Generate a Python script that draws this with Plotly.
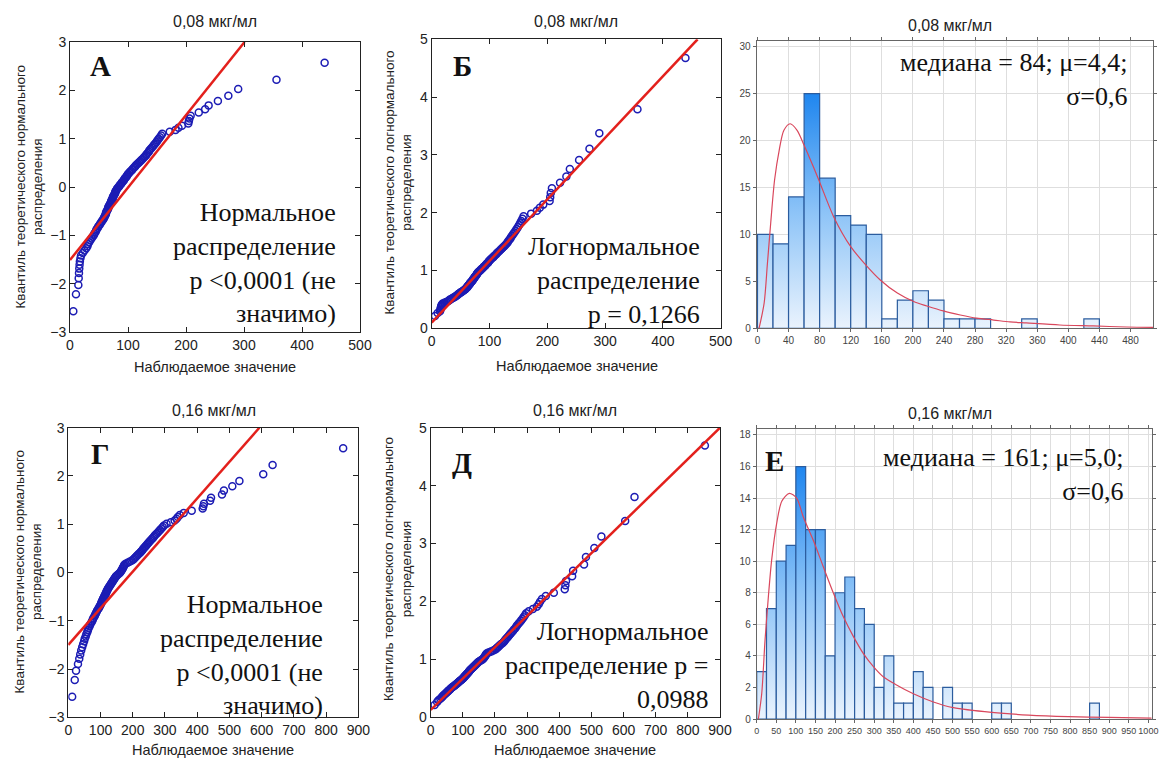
import math
from statistics import NormalDist
import plotly.graph_objects as go

W, H = 1159, 760

# ---------------- DATA ----------------
# Observed values, 0,08 мкг/мл (sorted, n = 123)
obs_008 = [5.7, 10.3, 14.4, 15, 15.5, 16, 16.5, 17, 18, 19,
           22, 25, 28, 30, 31, 33, 35, 37, 39,
           41, 42, 44, 45, 46, 48, 49, 51, 52, 54, 55, 57, 58, 59,
           60, 61, 62, 62, 63, 64, 65, 66, 66, 67, 68, 69, 70, 71, 71, 72, 73, 74, 74, 75, 76, 77, 78, 78, 79,
           80, 81, 82, 84, 85, 86, 88, 89, 90, 92, 93, 94, 95, 97, 98, 99,
           100, 102, 103, 105, 107, 108, 110, 112, 113, 115, 117, 119,
           121, 123, 125, 127, 129, 131, 132, 134, 136, 137, 139,
           141, 143, 145, 147, 149, 151, 153, 155, 157, 159,
           172, 182, 187, 193, 204, 205, 206, 208, 222, 233, 239,
           255, 273, 290, 356, 439]

# Observed values, 0,16 мкг/мл (sorted, n = 125)
obs_016 = [12, 20, 24,
           30, 34, 37, 40, 43, 46, 49,
           51, 54, 56, 59, 61, 63, 66, 68, 71, 74,
           76, 78, 81, 83, 85, 87, 89, 91, 94, 96, 98,
           100, 102, 103, 105, 106, 108, 110, 111, 113, 115, 116, 118, 119, 121, 122, 124,
           126, 128, 130, 132, 134, 136, 138, 140, 142, 144, 146, 148,
           151, 154, 158, 161, 163, 165, 167, 168, 170, 171, 173, 174,
           178, 184, 190, 196,
           201, 204, 207, 210, 213, 216, 219, 223,
           226, 229, 231, 234, 237, 240, 243, 246, 249,
           252, 256, 259, 263, 266, 269, 273,
           277, 281, 285, 289, 293, 297,
           305, 318, 330, 336, 340, 346, 358, 383,
           417, 419, 421, 440, 443, 477, 483, 509, 531, 605, 634, 853]

sigma_log = 0.6  # lognormal shape used for theoretical quantiles

# Fitted reference lines of the Q-Q plots (end points)
fitA_x, fitA_y = [0, 301], [-1.51, 3.0]
fitB_x, fitB_y = [0, 460], [0.10, 5.0]
fitG_x, fitG_y = [0, 593], [-1.50, 3.0]
fitD_x, fitD_y = [0, 900], [0.127, 5.0]

# Histograms
hist1_edges = [0, 20, 40, 60, 80, 100, 120, 140, 160, 180, 200, 220, 240, 260, 280,
               300, 320, 340, 360, 380, 400, 420, 440]
hist1_counts = [10, 9, 14, 25, 16, 12, 11, 10, 1, 3, 4, 3, 1, 1, 1, 0, 0, 1, 0, 0, 0, 1]

hist2_edges = [0, 25, 50, 75, 100, 125, 150, 175, 200, 225, 250, 275, 300, 325, 350, 375,
               400, 425, 450, 475, 500, 525, 550, 575, 600, 625, 650, 675, 700, 725, 750,
               775, 800, 825, 850, 875]
hist2_counts = [3, 7, 10, 11, 16, 12, 12, 4, 8, 9, 7, 6, 2, 4, 1, 1, 3, 2, 0, 2, 1, 1, 0, 0,
                1, 1, 0, 0, 0, 0, 0, 0, 0, 0, 1]

# Fitted density curves
curve1_x = [2, 8.6, 12.8, 17, 22, 28, 34, 42, 51, 60, 78, 98, 120, 141, 158, 180, 201, 218,
            239, 261, 282, 304, 325, 346, 389, 432, 475, 509]
curve1_y = [0, 2.7, 6.9, 11.2, 15.8, 19.0, 21.1, 21.8, 21.1, 19.5, 16.0, 11.9, 8.7, 6.6, 5.15,
            3.75, 2.85, 2.38, 1.85, 1.42, 1.08, 0.88, 0.68, 0.57, 0.35, 0.25, 0.14, 0.1]
curve2_x = [4.3, 12.8, 21.3, 29.8, 38.3, 51, 64, 83, 102, 119, 145, 170, 196, 221, 247, 272,
            298, 323, 357, 400, 451, 502, 600, 694, 796, 898, 1008]
curve2_y = [0, 1.6, 5.0, 7.75, 10.1, 12.4, 13.8, 14.3, 14.0, 12.8, 11.3, 9.65, 7.97, 6.49, 5.22,
            4.16, 3.32, 2.68, 2.16, 1.6, 1.08, 0.72, 0.42, 0.25, 0.15, 0.1, 0.06]

titles = ["0,08 мкг/мл", "0,08 мкг/мл", "0,08 мкг/мл", "0,16 мкг/мл", "0,16 мкг/мл", "0,16 мкг/мл"]
letters = ["А", "Б", "Г", "Д", "Е"]
texts = ["Нормальное<br>распределение<br>p &lt;0,0001 (не<br>значимо)",
         "Логнормальное<br>распределение<br>p = 0,1266",
         "медиана = 84; μ=4,4;<br>σ=0,6",
         "Нормальное<br>распределение<br>p &lt;0,0001 (не<br>значимо)",
         "Логнормальное<br>распределение p =<br>0,0988",
         "медиана = 161; μ=5,0;<br>σ=0,6"]
xlab = "Наблюдаемое значение"
ylab_norm = "Квантиль теоретического нормального<br>распределения"
ylab_log = "Квантиль теоретического логнормального<br>распределения"


# ---------------- HELPERS ----------------
def normal_quantiles(n):
    nd = NormalDist()
    return [nd.inv_cdf((i - 0.375) / (n + 0.25)) for i in range(1, n + 1)]


def px(x):
    return x / W


def py(y):
    return 1 - y / H


SANS = "Liberation Sans, Arial, sans-serif"
SERIF = "Liberation Serif, Times New Roman, serif"
MARK = "#1c1cb4"
FIT = "#e3201c"

fig = go.Figure()

z1 = normal_quantiles(len(obs_008))
z2 = normal_quantiles(len(obs_016))
log1 = [math.exp(sigma_log * z) for z in z1]
log2 = [math.exp(sigma_log * z) for z in z2]


def qq(xv, yv, fx, fy, ax):
    fig.add_trace(go.Scatter(x=xv, y=yv, mode="markers", xaxis="x" + ax, yaxis="y" + ax,
                             marker=dict(symbol="circle-open", size=7, color=MARK,
                                         line=dict(width=1.5, color=MARK)),
                             hoverinfo="skip", showlegend=False))
    fig.add_trace(go.Scatter(x=fx, y=fy, mode="lines", xaxis="x" + ax, yaxis="y" + ax,
                             line=dict(color=FIT, width=2.5), hoverinfo="skip",
                             showlegend=False))


qq(obs_008, z1, fitA_x, fitA_y, "")
qq(obs_008, log1, fitB_x, fitB_y, "2")
qq(obs_016, z2, fitG_x, fitG_y, "4")
qq(obs_016, log2, fitD_x, fitD_y, "5")


def hist(edges, counts, cx, cy, ax):
    top = max(counts)
    for i, c in enumerate(counts):
        if c <= 0:
            continue
        l, r = edges[i], edges[i + 1]
        fig.add_trace(go.Scatter(
            x=[l, l, r, r, l], y=[0, c, c, 0, 0], mode="lines", fill="toself",
            xaxis="x" + ax, yaxis="y" + ax,
            fillgradient=dict(type="vertical", start=0, stop=top,
                              colorscale=[[0, "#eaf3fd"], [0.5, "#8cc3f7"], [1, "#1f86ef"]]),
            line=dict(color="#2b5c9e", width=1.2), hoverinfo="skip", showlegend=False))
    fig.add_trace(go.Scatter(x=cx, y=cy, mode="lines", xaxis="x" + ax, yaxis="y" + ax,
                             line=dict(color="#d9475c", width=1.2, shape="spline",
                                       smoothing=0.8),
                             hoverinfo="skip", showlegend=False))


hist(hist1_edges, hist1_counts, curve1_x, curve1_y, "3")
hist(hist2_edges, hist2_counts, curve2_x, curve2_y, "6")

# ---------------- AXES ----------------
qq_ax = dict(showline=True, linecolor="#222", linewidth=1, mirror="ticks", ticks="inside",
             ticklen=5, tickcolor="#222", showgrid=False, zeroline=False,
             tickfont=dict(family=SANS, size=14, color="#222"), automargin=False,
             fixedrange=True)
h_ax = dict(showline=True, linecolor="#666", linewidth=1, mirror="ticks", ticks="outside",
            ticklen=3, tickcolor="#666", showgrid=True, gridcolor="#dedede", gridwidth=1,
            zeroline=False, tickfont=dict(family=SANS, size=10, color="#444"),
            automargin=False, fixedrange=True)

# panel pixel boxes: (x0, x1, ytop, ybottom)
boxes = [(70, 360, 42, 332), (431.7, 720.7, 39.3, 328.3), (756.7, 1153, 40.7, 328.3),
         (68.3, 358.3, 427.7, 717.3), (430.7, 720, 427.7, 717.3), (756.7, 1152.3, 429.3, 719)]
xr = [[0, 500], [0, 500], [-1, 509], [0, 900], [0, 900], [0, 1010]]
yr = [[-3, 3], [0, 5], [0, 30.65], [-3, 3], [0, 5], [0, 18.36]]
xt = [list(range(0, 501, 100)), list(range(0, 501, 100)), list(range(0, 481, 40)),
      list(range(0, 901, 100)), list(range(0, 901, 100)), list(range(0, 1001, 50))]
yt = [list(range(-3, 4)), list(range(0, 6)), list(range(0, 31, 5)),
      list(range(-3, 4)), list(range(0, 6)), list(range(0, 19, 2))]

lay = {}
for k in range(6):
    x0, x1, yt0, yb0 = boxes[k]
    base = h_ax if k in (2, 5) else qq_ax
    sfx = "" if k == 0 else str(k + 1)
    xa = dict(base, domain=[px(x0), px(x1)], range=xr[k], tickvals=xt[k],
              anchor="y" + sfx)
    ya = dict(base, domain=[py(yb0), py(yt0)], range=yr[k], tickvals=yt[k],
              anchor="x" + sfx)
    if k == 5:
        xa["tickfont"] = dict(family=SANS, size=9, color="#444")
    lay["xaxis" + sfx] = xa
    lay["yaxis" + sfx] = ya

# ---------------- ANNOTATIONS ----------------
ann = []
tpos = [(215, 22), (576, 22), (950, 25), (214, 410), (575, 410), (950, 413)]
for (x, y), t in zip(tpos, titles):
    ann.append(dict(x=px(x), y=py(y), xref="paper", yref="paper", text=t, showarrow=False,
                    xanchor="center", yanchor="middle",
                    font=dict(family=SANS, size=16, color="#222")))
for x, y in [(215, 367), (577, 366), (213, 750), (575, 750)]:
    ann.append(dict(x=px(x), y=py(y), xref="paper", yref="paper", text=xlab, showarrow=False,
                    xanchor="center", yanchor="middle",
                    font=dict(family=SANS, size=14.5, color="#222")))
for (x, y), t in zip([(29.5, 187), (397.5, 183), (27.5, 572), (397.5, 569.5)],
                     [ylab_norm, ylab_log, ylab_norm, ylab_log]):
    ann.append(dict(x=px(x), y=py(y), xref="paper", yref="paper", text=t, showarrow=False,
                    textangle=-90, xanchor="center", yanchor="middle",
                    font=dict(family=SANS, size=13.5, color="#222")))
for (x, y), t in zip([(100, 66), (462, 66), (100, 454), (462, 463), (774, 461)], letters):
    ann.append(dict(x=px(x), y=py(y), xref="paper", yref="paper", text="<b>" + t + "</b>",
                    showarrow=False, xanchor="center", yanchor="middle",
                    font=dict(family=SERIF, size=29, color="#111")))
for (x, y), t in zip([(338, 263), (702, 280), (1130, 79), (325, 655), (711, 665), (1126, 474)],
                     texts):
    ann.append(dict(x=px(x), y=py(y), xref="paper", yref="paper", text=t, showarrow=False,
                    xanchor="right", yanchor="middle", align="right",
                    font=dict(family=SERIF, size=26, color="#111")))

fig.update_layout(width=W, height=H, margin=dict(l=0, r=0, t=0, b=0), autosize=False,
                  paper_bgcolor="white", plot_bgcolor="white", showlegend=False,
                  annotations=ann, **lay)

fig.write_html("out.html", config={"displayModeBar": False})
